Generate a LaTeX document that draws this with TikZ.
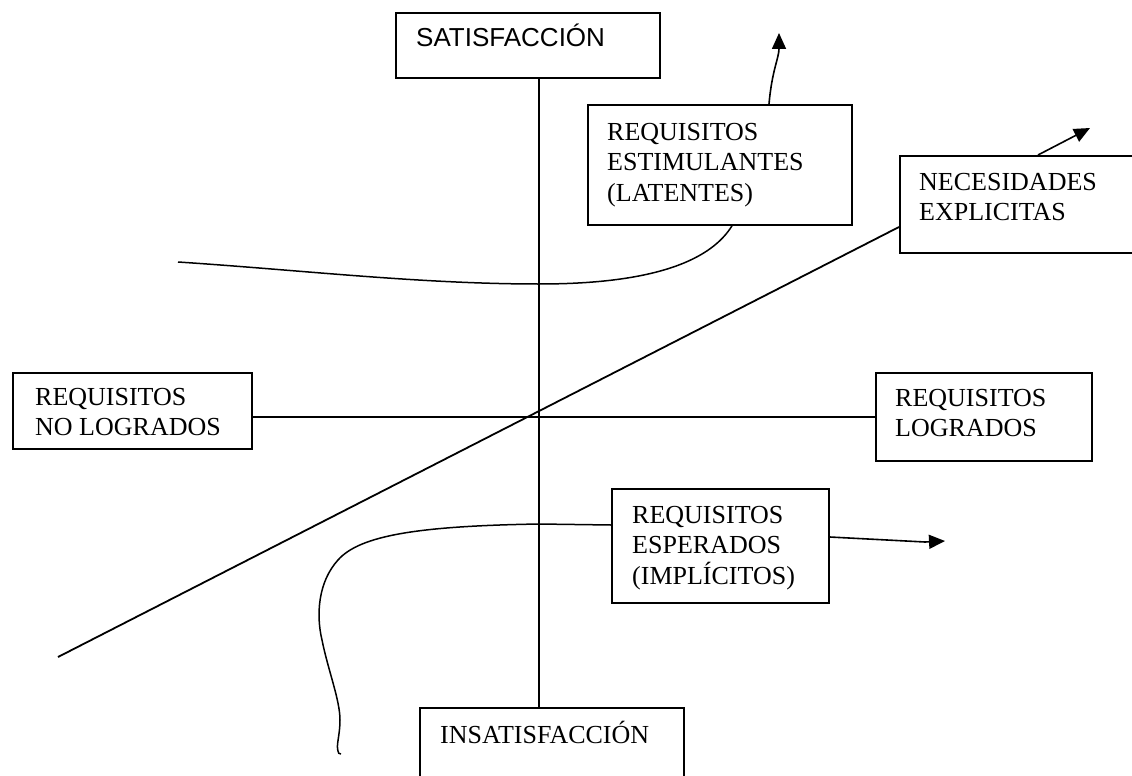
\documentclass[tikz,border=0pt]{standalone}
\usepackage{fontspec}
\setmainfont{Liberation Serif}
\newfontfamily\arialfont{Liberation Sans}
\usetikzlibrary{arrows.meta}
\begin{document}
\begin{tikzpicture}[x=1pt,y=-1pt,
  box/.style={draw, line width=1.8pt, inner sep=0pt, anchor=north west},
  txt/.style={anchor=base west, inner sep=0pt, font=\fontsize{26}{30.5}\selectfont},
  conn/.style={line width=1.8pt},
  curve/.style={line width=1.5pt},
  arr/.style={line width=1.6pt, -{Triangle[length=16pt,width=14pt]}}]
\useasboundingbox (0,0) rectangle (1132,776);
\clip (0,0) rectangle (1132,776);

% boxes
\node[box, minimum width=264pt, minimum height=65pt] (sat) at (395,12) {};
\node[txt, font=\arialfont\fontsize{26}{30.5}\selectfont] (satT) at (416,47) {SATISFACCIÓN};

\node[box, minimum width=264pt, minimum height=120pt] (est) at (587,104) {};
\node[txt] (estT) at (607,140) {\begin{tabular}[t]{@{}l@{}}REQUISITOS\\ESTIMULANTES\\(LATENTES)\end{tabular}};

\node[box, minimum width=260pt, minimum height=97pt] (nec) at (899,155) {};
\node[txt] (necT) at (919,190) {\begin{tabular}[t]{@{}l@{}}NECESIDADES\\EXPLICITAS\end{tabular}};

\node[box, minimum width=239pt, minimum height=76pt] (nolog) at (12,372) {};
\node[txt] (nologT) at (35,405) {\begin{tabular}[t]{@{}l@{}}REQUISITOS\\NO LOGRADOS\end{tabular}};

\node[box, minimum width=216pt, minimum height=88pt] (log) at (875,372) {};
\node[txt] (logT) at (895,406) {\begin{tabular}[t]{@{}l@{}}REQUISITOS\\LOGRADOS\end{tabular}};

\node[box, minimum width=217pt, minimum height=114pt] (esp) at (611,488) {};
\node[txt] (espT) at (632,523) {\begin{tabular}[t]{@{}l@{}}REQUISITOS\\ESPERADOS\\(IMPLÍCITOS)\end{tabular}};

\node[box, minimum width=264pt, minimum height=100pt] (ins) at (419,707) {};
\node[txt] (insT) at (440,743) {INSATISFACCIÓN};

% helper coordinates
\coordinate (c) at (539,417);
\coordinate (d0) at (58,657);
\coordinate (dy) at (0,227);
\coordinate (u0) at (178,262);
\coordinate (ux) at (732,0);
\coordinate (ax1) at (769,0);
\coordinate (t1) at (779,33);
\coordinate (ax2) at (1038,0);
\coordinate (t2) at (1090,128);
\coordinate (ay3) at (0,537);
\coordinate (t3) at (945,541);
\coordinate (ly) at (0,525);
\coordinate (lend) at (341,754);

% axes
\draw[conn] (sat.south -| c) -- (ins.north -| c);
\draw[conn] (nolog.east |- c) -- (log.west |- c);
% diagonal
\draw[conn] (d0) -- (nec.west |- dy);
% upper curve
\draw[curve] (u0) .. controls (300,270) and (420,284) .. (539,284)
  .. controls (660,284) and (712,258) .. (est.south -| ux);
% lower curve
\draw[curve] (esp.west |- ly) -- (539,524)
  .. controls (420,526) and (360,535) .. (338,560)
  .. controls (318,582) and (316,615) .. (322,640)
  .. controls (328,670) and (340,700) .. (340,720)
  .. controls (340,735) and (336,745) .. (338,751)
  .. controls (338,753) and (339,754) .. (lend);
% arrows
\draw[arr] (est.north -| ax1) .. controls (772,70) and (779,58) .. (t1);
\draw[arr] (nec.north -| ax2) -- (t2);
\draw[arr] (esp.east |- ay3) -- (925,542) -- (t3);
\end{tikzpicture}
\end{document}
